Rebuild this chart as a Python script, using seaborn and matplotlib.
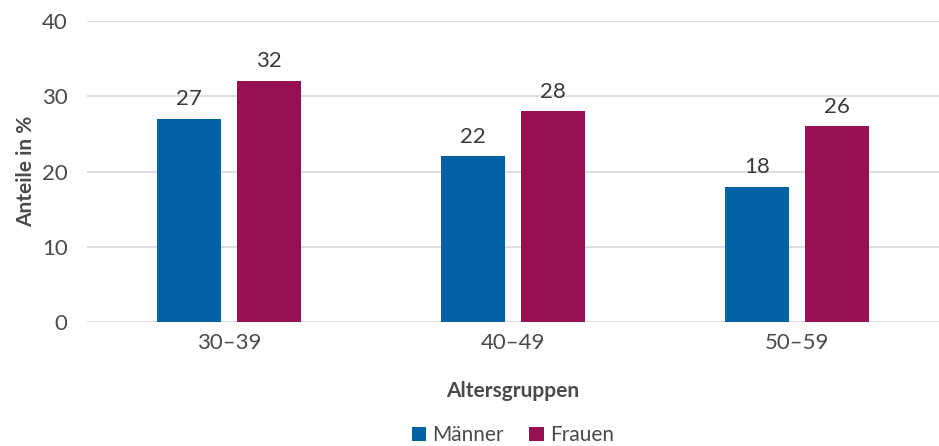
import matplotlib
matplotlib.use("Agg")
import matplotlib.pyplot as plt
import seaborn as sns
import pandas as pd
from matplotlib.patches import Patch

categories = ["30–39", "40–49", "50–59"]
maenner = [27, 22, 18]
frauen = [32, 28, 26]
series_names = ["Männer", "Frauen"]
colors = ["#0062A4", "#961152"]
yticks = [0, 10, 20, 30, 40]

df = pd.DataFrame({
    "Altersgruppen": categories * 2,
    "Wert": maenner + frauen,
    "Geschlecht": [series_names[0]] * 3 + [series_names[1]] * 3,
})

sns.set_theme(style="white")
plt.rcParams["font.family"] = ["Lato", "DejaVu Sans"]
text_color = "#4a4a4a"

fig = plt.figure(figsize=(9.39, 4.46), dpi=100)
ax = fig.add_axes([87 / 939, (446 - 322) / 446, 852 / 939, 301 / 446])

sns.barplot(data=df, x="Altersgruppen", y="Wert", hue="Geschlecht",
            palette=colors, width=0.567, gap=0.21, ax=ax, legend=False,
            saturation=1, linewidth=0)

for cont in ax.containers:
    ax.bar_label(cont, fmt="%d", padding=7, fontsize=16, color="#3a3a3a")

ax.set_ylim(0, 40)
ax.set_xlim(-0.5, 2.5)
ax.set_yticks(yticks)
ax.yaxis.grid(True, color="#d9d9d9", linewidth=1.2)
ax.set_axisbelow(True)
for s in ax.spines.values():
    s.set_visible(False)
ax.tick_params(axis="y", length=0, pad=14, labelsize=16, labelcolor=text_color)
ax.tick_params(axis="x", length=0, pad=8, labelsize=16, labelcolor=text_color)
ax.set_ylabel("Anteile in %", fontsize=15, fontweight="bold", color=text_color, labelpad=4)
ax.set_xlabel("Altersgruppen", fontsize=15, fontweight="bold", color=text_color, labelpad=20)

handles = [Patch(facecolor=c, edgecolor="none") for c in colors]
fig.legend(handles, series_names, loc="lower center", bbox_to_anchor=(0.546, -0.04),
           ncol=2, frameon=False, fontsize=15, handlelength=0.7, handleheight=0.7,
           handletextpad=0.3, columnspacing=1.2, labelcolor=text_color)

fig.savefig("out.png", dpi=100)
